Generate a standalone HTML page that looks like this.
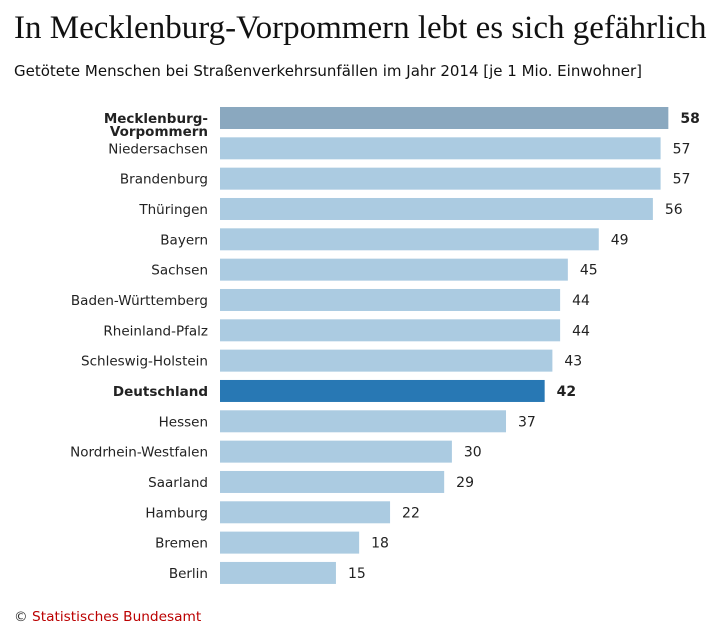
<!DOCTYPE html>
<html><head><meta charset="utf-8"><style>
body{margin:0;background:#fff;width:726px;height:641px;overflow:hidden;font-family:"DejaVu Sans","Liberation Sans",sans-serif;}
#title{position:absolute;left:14px;top:10px;font-family:"Liberation Serif",serif;font-size:33px;color:#111;white-space:nowrap}
#sub{position:absolute;left:14px;top:62px;font-size:15px;color:#111;white-space:nowrap}
#src{position:absolute;left:14px;top:609px;font-size:13.7px;color:#b00;white-space:nowrap}
</style></head><body>
<div id="title">In Mecklenburg-Vorpommern lebt es sich gefährlich</div>
<div id="sub">Getötete Menschen bei Straßenverkehrsunfällen im Jahr 2014 [je 1 Mio. Einwohner]</div>
<svg id="chart" width="726" height="641" style="position:absolute;left:0;top:0"></svg>
<div id="src"><span style="color:#333">©</span> Statistisches Bundesamt</div>
<script>
const categories=["Mecklenburg-Vorpommern","Niedersachsen","Brandenburg","Thüringen","Bayern","Sachsen","Baden-Württemberg","Rheinland-Pfalz","Schleswig-Holstein","Deutschland","Hessen","Nordrhein-Westfalen","Saarland","Hamburg","Bremen","Berlin"];
const values=[58,57,57,56,49,45,44,44,43,42,37,30,29,22,18,15];
const highlight=["Mecklenburg-Vorpommern","Deutschland"];
const ns="http://www.w3.org/2000/svg";
const svg=document.getElementById('chart');
const x0=220,k=7.73,y0=107,step=30.33,bh=22;
const xs=v=>x0+v*k, ys=i=>y0+i*step;
categories.forEach((c,i)=>{
  const v=values[i];
  const r=document.createElementNS(ns,'rect');
  
  
  r.setAttribute('x',x0);r.setAttribute('y',ys(i));r.setAttribute('width',xs(v)-x0);r.setAttribute('height',bh);
  r.setAttribute('fill',i===0?'#8aa8bf':(c==='Deutschland'?'#2878b4':'#abcbe1'));
  svg.appendChild(r);
  const bold=highlight.includes(c);
  const t=document.createElementNS(ns,'text');
  
  
  t.setAttribute('x',xs(v)+12);t.setAttribute('y',ys(i)+bh/2+5);
  t.setAttribute('font-size','14');t.setAttribute('fill','#222');
  if(bold)t.setAttribute('font-weight','bold');
  t.textContent=v;svg.appendChild(t);
  const l=document.createElementNS(ns,'text');
  
  
  l.setAttribute('x',208);l.setAttribute('text-anchor','end');
  l.setAttribute('font-size','13.5');l.setAttribute('fill','#222');
  if(bold)l.setAttribute('font-weight','bold');
  if(c==='Mecklenburg-Vorpommern'){
    const a=document.createElementNS(ns,'tspan');a.setAttribute('x',208);a.setAttribute('y',ys(i)+16);a.textContent='Mecklenburg-';
    const b=document.createElementNS(ns,'tspan');b.setAttribute('x',208);b.setAttribute('y',ys(i)+29);b.textContent='Vorpommern';
    l.appendChild(a);l.appendChild(b);
  } else {
    l.setAttribute('y',ys(i)+bh/2+5);l.textContent=c;
  }
  svg.appendChild(l);
});
</script>
</body></html>
